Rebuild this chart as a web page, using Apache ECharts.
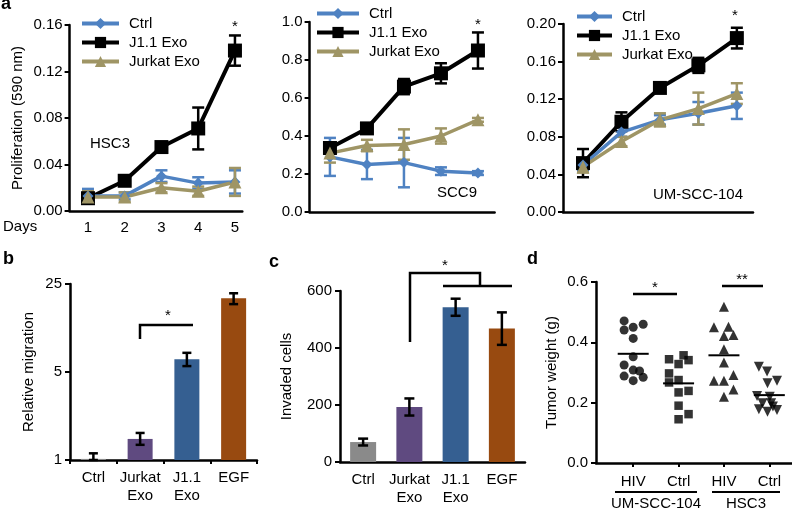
<!DOCTYPE html>
<html><head><meta charset="utf-8">
<script src="https://cdn.jsdelivr.net/npm/echarts@6/dist/echarts.min.js"></script>
<style>html,body{margin:0;padding:0;background:#fff}#c{width:792px;height:511px}</style>
</head><body><div id="c"></div>
<script>
// ---------- DATA ----------
const days = [1, 2, 3, 4, 5];
const seriesNames = ['Ctrl', 'J1.1 Exo', 'Jurkat Exo'];
// Panel a: HSC3
const hsc3Ctrl = [0.013, 0.013, 0.030, 0.024, 0.025];
const hsc3CtrlErr = [0.006, 0.003, 0.005, 0.005, 0.010];
const hsc3J11 = [0.011, 0.026, 0.055, 0.071, 0.138];
const hsc3J11Err = [0.003, 0.002, 0.004, 0.018, 0.013];
const hsc3Jurkat = [0.012, 0.012, 0.020, 0.017, 0.025];
const hsc3JurkatErr = [0.005, 0.004, 0.004, 0.004, 0.012];
// Panel a: SCC9
const scc9Ctrl = [0.29, 0.25, 0.26, 0.215, 0.205];
const scc9CtrlErr = [0.10, 0.077, 0.13, 0.02, 0.01];
const scc9J11 = [0.337, 0.44, 0.66, 0.73, 0.85];
const scc9J11Err = [0.03, 0.02, 0.04, 0.053, 0.095];
const scc9Jurkat = [0.31, 0.35, 0.355, 0.40, 0.485];
const scc9JurkatErr = [0.05, 0.03, 0.08, 0.04, 0.01];
// Panel a: UM-SCC-104
const umCtrl = [0.050, 0.085, 0.098, 0.105, 0.113];
const umCtrlErr = [0.006, 0.005, 0.005, 0.012, 0.014];
const umJ11 = [0.052, 0.096, 0.132, 0.156, 0.185];
const umJ11Err = [0.015, 0.010, 0.003, 0.008, 0.011];
const umJurkat = [0.048, 0.075, 0.098, 0.110, 0.126];
const umJurkatErr = [0.006, 0.005, 0.007, 0.017, 0.011];
// Panel b: relative migration (log scale)
const barCats = ['Ctrl', 'Jurkat\nExo', 'J1.1\nExo', 'EGF'];
const migValues = [1.02, 1.47, 6.3, 19.3];
const migLow = [1.0, 1.32, 5.57, 17.3];
const migHigh = [1.13, 1.64, 7.1, 21.1];
// Panel c: invaded cells
const invValues = [70, 193, 543, 468];
const invErr = [12, 30, 30, 57];
// Panel d: tumor weight
const tumorGroups = ['HIV', 'Ctrl', 'HIV', 'Ctrl'];
const g1Vals = [0.471, 0.460, 0.441, 0.450, 0.413, 0.352, 0.325, 0.308, 0.305, 0.288, 0.284, 0.273];
const g1Jit = [-0.2, 0.22, -0.2, 0, 0, 0, -0.2, 0, 0.14, -0.2, 0.22, 0];
const g2Vals = [0.344, 0.328, 0.357, 0.341, 0.297, 0.267, 0.275, 0.234, 0.239, 0.190, 0.145, 0.162];
const g2Jit = [-0.21, 0, 0.11, 0.22, -0.21, -0.21, 0, 0, 0.22, 0, 0, 0.22];
const g3Vals = [0.518, 0.450, 0.452, 0.421, 0.424, 0.377, 0.333, 0.273, 0.273, 0.292, 0.244, 0.220];
const g3Jit = [0, -0.22, 0.1, 0, 0.21, 0, 0, -0.22, 0, 0.21, 0.21, 0];
const g4Vals = [0.319, 0.303, 0.264, 0.273, 0.222, 0.220, 0.198, 0.198, 0.178, 0.170, 0.176, 0.187];
const g4Jit = [-0.23, -0.05, -0.04, 0.17, -0.27, 0.01, -0.15, 0.04, -0.23, -0.04, 0.17, 0.08];
const tumorMeans = [0.362, 0.264, 0.357, 0.225];

// ---------- STYLE ----------
const FONT = 'Liberation Sans';
const cBlue = '#4f82c2', cBlack = '#000000', cKhaki = '#9f9565';
const barColors = ['#8a8a8a', '#5f4a80', '#355f91', '#984a10'];

function errRender(capHalf, color, lw) {
  return function (params, api) {
    const x = api.value(0), lo = api.value(1), hi = api.value(2);
    const p1 = api.coord([x, hi]), p2 = api.coord([x, lo]);
    const st = { stroke: color, lineWidth: lw };
    return { type: 'group', children: [
      { type: 'line', shape: { x1: p1[0], y1: p1[1], x2: p2[0], y2: p2[1] }, style: st },
      { type: 'line', shape: { x1: p1[0] - capHalf, y1: p1[1], x2: p1[0] + capHalf, y2: p1[1] }, style: st },
      { type: 'line', shape: { x1: p2[0] - capHalf, y1: p2[1], x2: p2[0] + capHalf, y2: p2[1] }, style: st }
    ]};
  };
}

const grids = [
  { left: 69.6, top: 25, width: 172.7, height: 186 },
  { left: 309.6, top: 22, width: 185, height: 190 },
  { left: 563, top: 24, width: 190, height: 188 },
  { left: 70, top: 284, width: 187, height: 176 },
  { left: 340, top: 291, width: 185, height: 171 },
  { left: 596, top: 282, width: 196, height: 181 }
];

const axLine = { show: true, lineStyle: { color: '#000', width: 2.5 } };
const lbl = { color: '#000', fontSize: 15, fontFamily: FONT };

function lineX(gi, min, max) {
  return { type: 'value', gridIndex: gi, min: min, max: max, interval: 0.5,
    axisLine: axLine, axisTick: { show: false }, splitLine: { show: false },
    axisLabel: Object.assign({}, lbl, { margin: 9, showMinLabel: true, showMaxLabel: true,
      formatter: v => Number.isInteger(v) && v >= 1 && v <= 5 ? String(v) : '' }) };
}
function lineY(gi, max, step, dec, name) {
  return { type: 'value', gridIndex: gi, min: 0, max: max, interval: step,
    axisLine: axLine, axisTick: { show: true, inside: false, length: 5, lineStyle: { color: '#000', width: 2 } },
    splitLine: { show: false },
    axisLabel: Object.assign({}, lbl, { margin: 7, formatter: v => v.toFixed(dec) }),
    name: name || '', nameLocation: 'middle', nameRotate: 90, nameGap: 44,
    nameTextStyle: { color: '#000', fontSize: 15, fontFamily: FONT } };
}

const xAxes = [
  lineX(0, 0.5, 5.2),
  lineX(1, 0.45, 5.45),
  lineX(2, 0.48, 5.42),
  { type: 'category', gridIndex: 3, data: barCats, boundaryGap: true,
    axisLine: axLine, axisTick: { show: true, alignWithLabel: false, length: 4, lineStyle: { color: '#000', width: 2 } },
    axisLabel: Object.assign({}, lbl, { margin: 9, lineHeight: 18, interval: 0 }) },
  { type: 'category', gridIndex: 4, data: barCats, boundaryGap: true,
    axisLine: axLine, axisTick: { show: false },
    axisLabel: Object.assign({}, lbl, { margin: 9, lineHeight: 18, interval: 0 }) },
  { type: 'value', gridIndex: 5, min: 0.18, max: 4.5, splitLine: { show: false },
    axisLine: axLine,
    axisTick: { show: true, length: 4, customValues: [1, 2, 3, 4], lineStyle: { color: '#000', width: 2 } },
    axisLabel: Object.assign({}, lbl, { margin: 11, customValues: [1, 2, 3, 4],
      formatter: v => tumorGroups[Math.round(v) - 1] || '' }) }
];
const yAxes = [
  lineY(0, 0.16, 0.04, 2, 'Proliferation (590 nm)'),
  lineY(1, 1.0, 0.2, 1),
  lineY(2, 0.20, 0.04, 2),
  { type: 'log', logBase: 5, gridIndex: 3, min: 1, max: 25,
    axisLine: axLine, axisTick: { show: true, length: 5, lineStyle: { color: '#000', width: 2 } },
    splitLine: { show: false }, minorTick: { show: false },
    axisLabel: Object.assign({}, lbl, { margin: 8 }),
    name: 'Relative migration', nameLocation: 'middle', nameRotate: 90, nameGap: 34,
    nameTextStyle: { color: '#000', fontSize: 15, fontFamily: FONT } },
  { type: 'value', gridIndex: 4, min: 0, max: 600, interval: 200,
    axisLine: axLine, axisTick: { show: true, length: 5, lineStyle: { color: '#000', width: 2 } },
    splitLine: { show: false }, axisLabel: Object.assign({}, lbl, { margin: 8 }),
    name: 'Invaded cells', nameLocation: 'middle', nameRotate: 90, nameGap: 46,
    nameTextStyle: { color: '#000', fontSize: 15, fontFamily: FONT } },
  { type: 'value', gridIndex: 5, min: 0, max: 0.6, interval: 0.2,
    axisLine: axLine, axisTick: { show: true, length: 5, lineStyle: { color: '#000', width: 2 } },
    splitLine: { show: false }, axisLabel: Object.assign({}, lbl, { margin: 8, formatter: v => v.toFixed(1) }),
    name: 'Tumor weight (g)', nameLocation: 'middle', nameRotate: 90, nameGap: 37,
    nameTextStyle: { color: '#000', fontSize: 15, fontFamily: FONT } }
];

const series = [];
const panels = [
  { gi: 0, ctrl: hsc3Ctrl, ctrlE: hsc3CtrlErr, j: hsc3J11, jE: hsc3J11Err, k: hsc3Jurkat, kE: hsc3JurkatErr },
  { gi: 1, ctrl: scc9Ctrl, ctrlE: scc9CtrlErr, j: scc9J11, jE: scc9J11Err, k: scc9Jurkat, kE: scc9JurkatErr },
  { gi: 2, ctrl: umCtrl, ctrlE: umCtrlErr, j: umJ11, jE: umJ11Err, k: umJurkat, kE: umJurkatErr }
];
panels.forEach(p => {
  const defs = [
    { name: 'J1.1 Exo', v: p.j, e: p.jE, color: cBlack, sym: 'rect', size: 14, lw: 4 },
    { name: 'Ctrl', v: p.ctrl, e: p.ctrlE, color: cBlue, sym: 'diamond', size: 11, lw: 3.5 },
    { name: 'Jurkat Exo', v: p.k, e: p.kE, color: cKhaki, sym: 'triangle', size: 13, lw: 3.5 }
  ];
  defs.forEach(d => {
    series.push({ type: 'line', name: d.name, xAxisIndex: p.gi, yAxisIndex: p.gi,
      data: days.map((x, i) => [x, d.v[i]]), symbol: d.sym, symbolSize: d.size,
      lineStyle: { color: d.color, width: d.lw }, itemStyle: { color: d.color },
      showAllSymbol: true });
    series.push({ type: 'custom', xAxisIndex: p.gi, yAxisIndex: p.gi,
      renderItem: errRender(6, d.color, 2.5),
      data: days.map((x, i) => [x, d.v[i] - d.e[i], d.v[i] + d.e[i]]) });
  });
});

// Panel b
series.push({ type: 'bar', xAxisIndex: 3, yAxisIndex: 3, barWidth: 25, z: 2,
  data: migValues.map((v, i) => ({ value: v, itemStyle: { color: barColors[i] } })) });
series.push({ type: 'custom', xAxisIndex: 3, yAxisIndex: 3, z: 10, renderItem: errRender(4.5, '#000', 2.5),
  data: migValues.map((v, i) => [i, migLow[i], migHigh[i]]) });
// Panel c
series.push({ type: 'bar', xAxisIndex: 4, yAxisIndex: 4, barWidth: 26, z: 2,
  data: invValues.map((v, i) => ({ value: v, itemStyle: { color: barColors[i] } })) });
series.push({ type: 'custom', xAxisIndex: 4, yAxisIndex: 4, z: 10, renderItem: errRender(5, '#000', 2.5),
  data: invValues.map((v, i) => [i, v - invErr[i], v + invErr[i]]) });
// Panel d
const dGroups = [
  { vals: g1Vals, jit: g1Jit, sym: 'circle', size: 9, rot: 0 },
  { vals: g2Vals, jit: g2Jit, sym: 'rect', size: 8.5, rot: 0 },
  { vals: g3Vals, jit: g3Jit, sym: 'triangle', size: 10, rot: 0 },
  { vals: g4Vals, jit: g4Jit, sym: 'triangle', size: 10, rot: 180 }
];
dGroups.forEach((g, gi) => {
  series.push({ type: 'scatter', xAxisIndex: 5, yAxisIndex: 5, symbol: g.sym, symbolSize: g.size,
    symbolRotate: g.rot, itemStyle: { color: '#000' },
    data: g.vals.map((v, i) => [gi + 1 + g.jit[i], v]) });
});
series.push({ type: 'custom', xAxisIndex: 5, yAxisIndex: 5,
  renderItem: function (params, api) {
    const p = api.coord([api.value(0), api.value(1)]);
    return { type: 'line', shape: { x1: p[0] - 15.5, y1: p[1], x2: p[0] + 15.5, y2: p[1] },
      style: { stroke: '#000', lineWidth: 2 } };
  },
  data: tumorMeans.map((m, i) => [i + 1, m]) });

function legendAt(left, top, w) {
  return { left: left, top: top, orient: 'vertical', itemWidth: w, itemHeight: 14, itemGap: 4,
    selectedMode: false, padding: 0, data: seriesNames,
    lineStyle: { width: 4 },
    textStyle: { fontSize: 15, color: '#000', fontFamily: FONT, padding: [0, 0, 0, 5] } };
}

function txt(x, y, s, opts) {
  return Object.assign({ type: 'text', x: x, y: y, silent: true,
    style: Object.assign({ text: s, fill: '#000', font: '15px "' + FONT + '"', textVerticalAlign: 'middle' }, opts || {}) });
}
function poly(points, w) {
  return { type: 'polyline', silent: true, shape: { points: points }, style: { stroke: '#000', lineWidth: w || 2.5, fill: null } };
}

const graphics = [
  txt(1, 4, 'a', { font: 'bold 18px "' + FONT + '"' }),
  txt(3, 259, 'b', { font: 'bold 18px "' + FONT + '"' }),
  txt(269, 262, 'c', { font: 'bold 18px "' + FONT + '"' }),
  txt(527, 259, 'd', { font: 'bold 18px "' + FONT + '"' }),
  txt(3, 227, 'Days'),
  txt(90, 144, 'HSC3'),
  txt(437, 193, 'SCC9'),
  txt(653, 195, 'UM-SCC-104'),
  txt(235, 27, '*', { textAlign: 'center' }),
  txt(478, 25, '*', { textAlign: 'center' }),
  txt(735, 16, '*', { textAlign: 'center' }),
  poly([[140, 339], [140, 325], [193, 325]]),
  txt(168, 316, '*', { textAlign: 'center' }),
  poly([[410, 342], [410, 273], [480, 273], [480, 286]]),
  poly([[443, 286], [512, 286]]),
  txt(445, 266, '*', { textAlign: 'center' }),
  poly([[633, 294], [677, 294]]),
  txt(655, 288, '*', { textAlign: 'center' }),
  poly([[722, 286], [763, 286]]),
  txt(742, 280, '**', { textAlign: 'center' }),
  poly([[615, 492], [697, 492]], 2),
  poly([[712, 492], [780, 492]], 2),
  txt(656, 504, 'UM-SCC-104', { textAlign: 'center' }),
  txt(746, 504, 'HSC3', { textAlign: 'center' })
];

const chart = echarts.init(document.getElementById('c'), null, { renderer: 'canvas' });
chart.setOption({
  animation: false,
  backgroundColor: '#fff',
  textStyle: { fontFamily: FONT },
  grid: grids,
  xAxis: xAxes,
  yAxis: yAxes,
  legend: [legendAt(80, 16, 37), legendAt(315, 6, 42), legendAt(575, 9, 35)],
  series: series,
  graphic: graphics
});
</script></body></html>
